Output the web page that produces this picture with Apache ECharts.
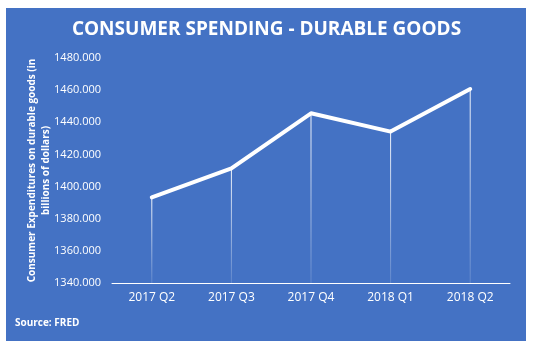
<!DOCTYPE html>
<html><head><meta charset="utf-8">
<script src="https://cdn.jsdelivr.net/npm/echarts@6/dist/echarts.min.js"></script>
<style>html,body{margin:0;padding:0;background:#fff}#c{width:533px;height:350px}</style>
</head><body><div id="c"></div>
<script>
const categories = ['2017 Q2','2017 Q3','2017 Q4','2018 Q1','2018 Q2'];
const spending = [1393.3, 1411.3, 1445.6, 1434.2, 1460.7];
const yMin = 1340, yMax = 1480, yStep = 20;
const titleText = 'CONSUMER SPENDING - DURABLE GOODS';
const yName = 'Consumer Expenditures on durable goods (in\nbillions of dollars)';
const sourceText = 'Source: FRED';

const chart = echarts.init(document.getElementById('c'));
chart.setOption({
  backgroundColor: '#ffffff',
  animation: false,
  graphic: [
    {type:'rect', z:-10, shape:{x:6,y:8,width:520,height:333}, style:{fill:'#4472C4'}},
    {type:'text', left:15, top:318, style:{text:sourceText, fill:'#ffffff', font:'bold 10px "Open Sans", sans-serif'}}
  ],
  title: {
    text: titleText, left: 'center', top: 15,
    textStyle: {color:'#ffffff', fontSize:19, fontWeight:'bold', fontFamily:'"Open Sans", sans-serif'}
  },
  grid: {left:112, right:23, top:58, bottom:67},
  xAxis: {
    type:'category', data: categories, boundaryGap:true,
    axisLine:{lineStyle:{color:'#ffffff', width:1}},
    axisTick:{show:false},
    axisLabel:{color:'#ffffff', fontSize:12, margin:9, fontFamily:'"Open Sans", sans-serif'}
  },
  yAxis: {
    type:'value', min:yMin, max:yMax, interval:yStep,
    name: yName, nameLocation:'middle', nameGap:59, nameRotate:90, nameMoveOverlap:false,
    nameTextStyle:{color:'#ffffff', fontSize:10, fontWeight:'bold', lineHeight:14, fontFamily:'"Open Sans", sans-serif'},
    axisLine:{show:false}, axisTick:{show:false}, splitLine:{show:false},
    axisLabel:{color:'#ffffff', fontSize:11, margin:11, formatter:v=>v.toFixed(3), fontFamily:'"Open Sans", sans-serif'}
  },
  series: [
    {type:'bar', data: spending, barWidth:1, silent:true,
     itemStyle:{color:new echarts.graphic.LinearGradient(0,0,0,1,[{offset:0,color:'rgba(255,255,255,0.95)'},{offset:1,color:'rgba(255,255,255,0.15)'}])}},
    {type:'line', data: spending, symbol:'none', lineStyle:{color:'#ffffff', width:4, cap:'round', join:'round'}, z:5}
  ]
});
</script></body></html>
